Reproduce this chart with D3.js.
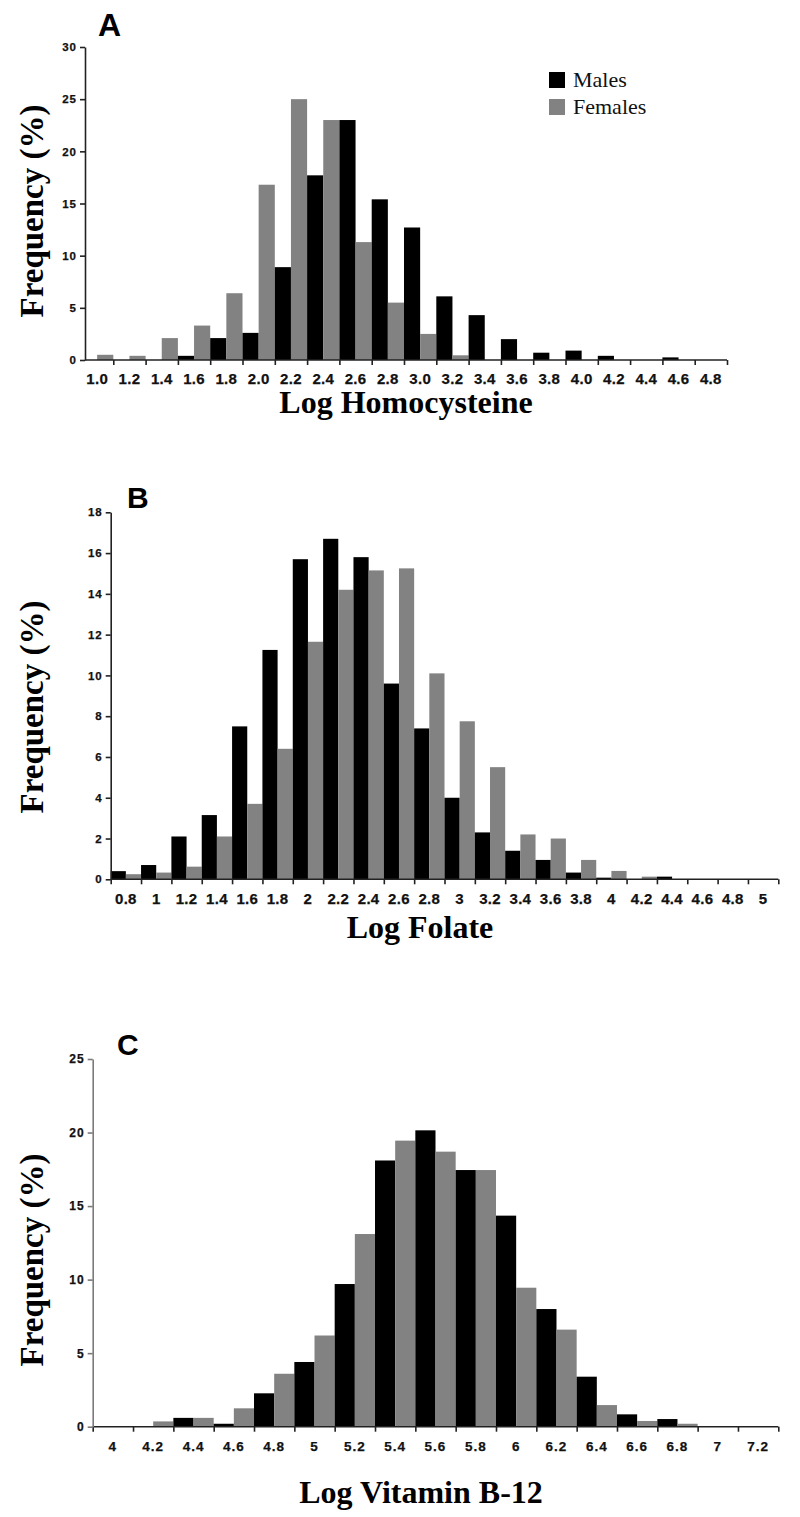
<!DOCTYPE html>
<html>
<head>
<meta charset="utf-8">
<script src="https://cdn.jsdelivr.net/npm/d3@7"></script>
<style>
  body { margin: 0; background: #fff; }
  svg { display: block; }
  .tick text { font-family: "Liberation Sans", Arial, sans-serif; font-weight: bold; fill: #111; stroke: #111; stroke-width: 0.25px; }
</style>
</head>
<body>
<div id="chart"></div>
<script>
// values (percent of each sex per bin)
const homoCats = ["1.0","1.2","1.4","1.6","1.8","2.0","2.2","2.4","2.6","2.8","3.0","3.2","3.4","3.6","3.8","4.0","4.2","4.4","4.6","4.8"];
const homoMales = [0, 0, 0, 0.4, 2.1, 2.6, 8.9, 17.7, 23.0, 15.4, 12.7, 6.1, 4.3, 2.0, 0.7, 0.9, 0.4, 0, 0.25, 0];
const homoFemales = [0.5, 0.4, 2.1, 3.3, 6.4, 16.8, 25.0, 23.0, 11.3, 5.5, 2.5, 0.45, 0, 0, 0, 0, 0, 0, 0, 0];
const homoTicks = [0, 5, 10, 15, 20, 25, 30];

const folateCats = ["0.8","1","1.2","1.4","1.6","1.8","2","2.2","2.4","2.6","2.8","3","3.2","3.4","3.6","3.8","4","4.2","4.4","4.6","4.8","5"];
const folateMales = [0.4, 0.7, 2.1, 3.15, 7.5, 11.25, 15.7, 16.7, 15.8, 9.6, 7.4, 4.0, 2.3, 1.4, 0.95, 0.33, 0.08, 0, 0.13, 0, 0, 0];
const folateFemales = [0.25, 0.33, 0.62, 2.1, 3.7, 6.4, 11.65, 14.2, 15.15, 15.25, 10.1, 7.75, 5.5, 2.2, 2.0, 0.95, 0.41, 0.13, 0, 0, 0, 0];
const folateTicks = [0, 2, 4, 6, 8, 10, 12, 14, 16, 18];

const b12Cats = ["4","4.2","4.4","4.6","4.8","5","5.2","5.4","5.6","5.8","6","6.2","6.4","6.6","6.8","7","7.2"];
const b12Males = [0, 0, 0.6, 0.2, 2.27, 4.4, 9.7, 18.1, 20.15, 17.45, 14.35, 8.0, 3.4, 0.84, 0.52, 0, 0];
const b12Females = [0, 0.36, 0.6, 1.25, 3.6, 6.2, 13.1, 19.45, 18.7, 17.45, 9.45, 6.6, 1.47, 0.39, 0.2, 0, 0];
const b12Ticks = [0, 5, 10, 15, 20, 25];

const seriesNames = ["Males", "Females"];
const seriesColors = ["#000000", "#828282"];

let svg = d3.select("#chart").append("svg")
	.attr("width", 800)
	.attr("height", 1517);

function drawPanel(p) {
	let g = svg.append("g");
	let n = p.cats.length;

	let x = d3.scaleBand().domain(p.cats).range([p.x0, p.x1]).padding(0);
	let xs = d3.scaleBand().domain(seriesNames).range([0, x.bandwidth()]).padding(0);
	let xi = d3.scaleLinear().domain([0, n]).range([p.x0, p.x1]);
	let ymax = p.ticks[p.ticks.length - 1];
	let y = d3.scaleLinear().domain([0, ymax]).range([p.yb, p.yt]);

	// bars
	let rows = p.cats.map((c, i) => ({ cat: c, vals: [p.males[i], p.females[i]] }));
	g.selectAll("g.cat").data(rows).join("g")
		.attr("class", "cat")
		.attr("transform", d => `translate(${x(d.cat)},0)`)
		.selectAll("rect")
		.data(d => d.vals.map((v, k) => ({ v: v, k: k })))
		.join("rect")
		.attr("x", d => xs(seriesNames[d.k]))
		.attr("width", xs.bandwidth())
		.attr("y", d => y(d.v))
		.attr("height", d => p.yb - y(d.v))
		.attr("fill", d => seriesColors[d.k]);

	// x axis: boundary ticks
	let tickIdx = d3.range(p.skipFirst ? 1 : 0, n + 1);
	let xa = g.append("g")
		.attr("transform", `translate(0,${p.yb})`)
		.call(d3.axisBottom(xi).tickValues(tickIdx).tickFormat("").tickSize(5).tickSizeOuter(0));
	xa.select(".domain").attr("d", `M${p.ya},0H${p.x1}`);
	xa.selectAll("line, path").attr("stroke", "#222").attr("stroke-width", 1.6);

	// x axis: labels centred in bins
	let xl = g.append("g")
		.attr("transform", `translate(0,${p.yb})`)
		.call(d3.axisBottom(x).tickSize(0).tickPadding(p.labPad));
	xl.select(".domain").remove();
	xl.selectAll("text").style("font-size", p.xFont + "px").style("letter-spacing", p.xSpace + "px");

	// y axis
	let yaxis = g.append("g")
		.attr("transform", `translate(${p.ya},0)`)
		.call(d3.axisLeft(y).tickValues(p.ticks).tickSize(5).tickSizeOuter(0).tickPadding(3));
	yaxis.selectAll("line, path").attr("stroke", p.yColor).attr("stroke-width", 1.6);
	yaxis.selectAll("text").style("font-size", p.yFont + "px").style("letter-spacing", "1px");

	// panel letter
	g.append("text")
		.attr("x", p.letterX).attr("y", p.letterY)
		.style("font-family", "'Liberation Sans', Arial, sans-serif")
		.style("font-weight", "bold")
		.style("font-size", p.letterSize + "px")
		.text(p.letter);

	// axis titles
	g.append("text")
		.attr("transform", `translate(43,${p.yTitleY}) rotate(-90)`)
		.attr("text-anchor", "middle")
		.style("font-family", "'Liberation Serif', 'Times New Roman', serif")
		.style("font-weight", "bold")
		.style("font-size", "33px")
		.text("Frequency (%)");

	g.append("text")
		.attr("x", p.xTitleX).attr("y", p.xTitleY)
		.attr("text-anchor", "middle")
		.style("font-family", "'Liberation Serif', 'Times New Roman', serif")
		.style("font-weight", "bold")
		.style("font-size", "32px")
		.text(p.xTitle);

	if (p.legend) {
		let lg = g.append("g").attr("transform", "translate(549,72)");
		let items = lg.selectAll("g").data(seriesNames).join("g")
			.attr("transform", (d, i) => `translate(0,${i * 27})`);
		items.append("rect")
			.attr("width", 16).attr("height", 16)
			.attr("fill", (d, i) => seriesColors[i]);
		items.append("text")
			.attr("x", 24).attr("y", 15)
			.style("font-family", "'Liberation Serif', 'Times New Roman', serif")
			.style("font-size", "22px")
			.style("fill", "#111")
			.text(d => d);
	}
}

drawPanel({
	cats: homoCats, males: homoMales, females: homoFemales, ticks: homoTicks,
	x0: 81, x1: 727, ya: 85, yb: 360, yt: 47, skipFirst: true,
	labPad: 13, xFont: 15, xSpace: 0.3, yFont: 11.5, yColor: "#222",
	letter: "A", letterX: 98, letterY: 36, letterSize: 32,
	yTitleY: 211, xTitle: "Log Homocysteine", xTitleX: 406, xTitleY: 413, legend: true
});

drawPanel({
	cats: folateCats, males: folateMales, females: folateFemales, ticks: folateTicks,
	x0: 110.7, x1: 778.3, ya: 110.7, yb: 879.3, yt: 512.3, skipFirst: false,
	labPad: 14, xFont: 15, xSpace: 0.3, yFont: 11.5, yColor: "#222",
	letter: "B", letterX: 127, letterY: 508, letterSize: 30,
	yTitleY: 707, xTitle: "Log Folate", xTitleX: 420, xTitleY: 938, legend: false
});

drawPanel({
	cats: b12Cats, males: b12Males, females: b12Females, ticks: b12Ticks,
	x0: 92.7, x1: 778.3, ya: 92.7, yb: 1426.7, yt: 1059, skipFirst: false,
	labPad: 15, xFont: 13.5, xSpace: 1, yFont: 12, yColor: "#7a7a7a",
	letter: "C", letterX: 117, letterY: 1055, letterSize: 30,
	yTitleY: 1260, xTitle: "Log Vitamin B-12", xTitleX: 421, xTitleY: 1503, legend: false
});
</script>
</body>
</html>
